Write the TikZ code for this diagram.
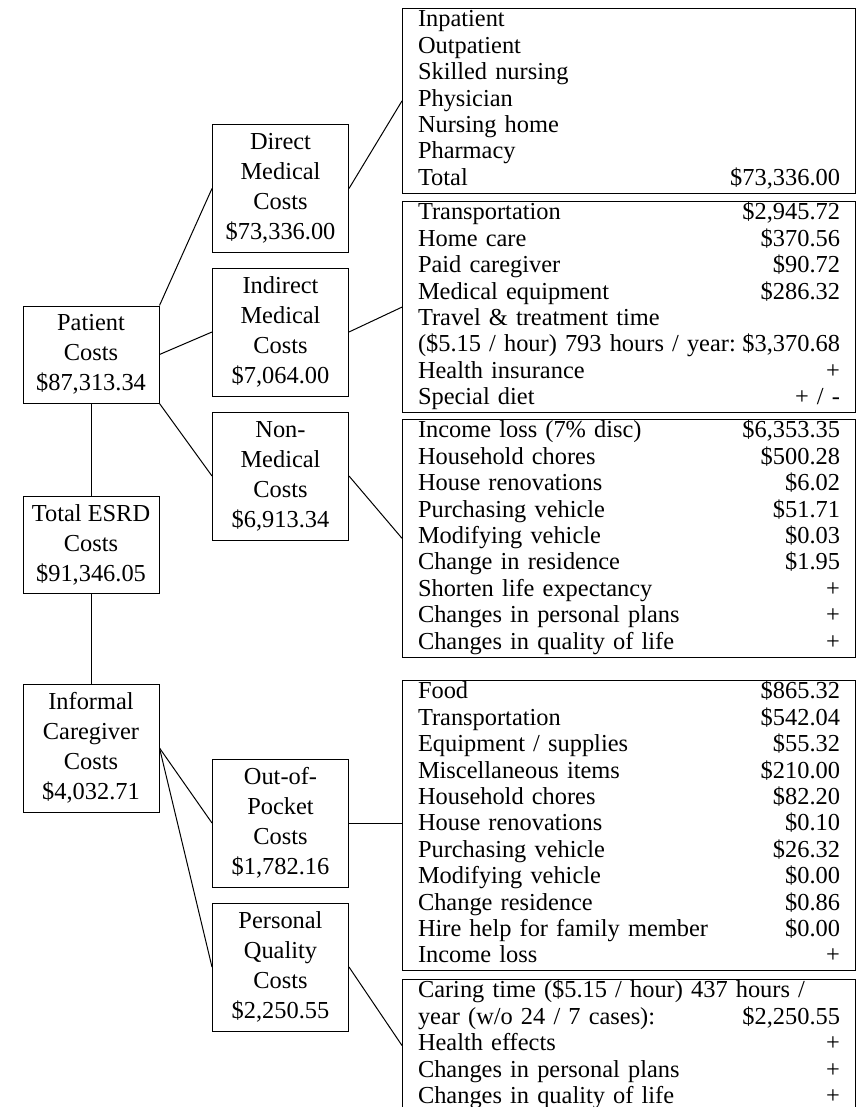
\documentclass[tikz,border=0pt]{standalone}
\usepackage{fontspec}
\setmainfont{Liberation Serif}
\newcommand\costrow[2]{\strut#1\hfill#2}
\begin{document}
\begin{tikzpicture}[x=0.5pt,y=-0.5pt,line width=0.5pt,
	costbox/.style={draw,align=center,minimum width=68pt,inner sep=0pt,font=\fontsize{12.2}{15}\selectfont},
	threeline/.style={costbox,minimum height=48.5pt},
	fourline/.style={costbox,minimum height=64pt},
	listbox/.style={draw,anchor=north west,align=left,text width=211pt,inner xsep=7.75pt,inner ysep=0pt,font=\fontsize{12.2}{13.2}\selectfont}]
	\useasboundingbox (0,0) rectangle (860,1107);
	% left column
	\node[threeline] (patient) at (91,354.5) {Patient\\Costs\\\$87,313.34};
	\node[threeline] (total) at (91,544.5) {Total ESRD\\Costs\\\$91,346.05};
	\node[fourline] (informal) at (91,748) {Informal\\Caregiver\\Costs\\\$4,032.71};
	% middle column
	\node[fourline] (direct) at (280.5,188.5) {Direct\\Medical\\Costs\\\$73,336.00};
	\node[fourline] (indirect) at (280.5,332) {Indirect\\Medical\\Costs\\\$7,064.00};
	\node[fourline] (nonmed) at (280.5,476) {Non-\\Medical\\Costs\\\$6,913.34};
	\node[fourline] (pocket) at (280.5,823) {Out-of-\\Pocket\\Costs\\\$1,782.16};
	\node[fourline] (quality) at (280.5,967) {Personal\\Quality\\Costs\\\$2,250.55};
	% right column
	\node[listbox] (directlist) at (402,8) {\costrow{Inpatient}{}\\\costrow{Outpatient}{}\\
		\costrow{Skilled nursing}{}\\\costrow{Physician}{}\\\costrow{Nursing home}{}\\
		\costrow{Pharmacy}{}\\\costrow{Total}{\$73,336.00}};
	\node[listbox] (indirectlist) at (402,201) {\costrow{Transportation}{\$2,945.72}\\
		\costrow{Home care}{\$370.56}\\\costrow{Paid caregiver}{\$90.72}\\
		\costrow{Medical equipment}{\$286.32}\\\costrow{Travel \& treatment time}{}\\
		\costrow{(\$5.15 / hour) 793 hours / year:}{\$3,370.68}\\
		\costrow{Health insurance}{+}\\\costrow{Special diet}{+ / -}};
	\node[listbox] (nonmedlist) at (402,419) {\costrow{Income loss (7\% disc)}{\$6,353.35}\\
		\costrow{Household chores}{\$500.28}\\\costrow{House renovations}{\$6.02}\\
		\costrow{Purchasing vehicle}{\$51.71}\\\costrow{Modifying vehicle}{\$0.03}\\
		\costrow{Change in residence}{\$1.95}\\\costrow{Shorten life expectancy}{+}\\
		\costrow{Changes in personal plans}{+}\\\costrow{Changes in quality of life}{+}};
	\node[listbox] (pocketlist) at (402,680) {\costrow{Food}{\$865.32}\\
		\costrow{Transportation}{\$542.04}\\\costrow{Equipment / supplies}{\$55.32}\\
		\costrow{Miscellaneous items}{\$210.00}\\\costrow{Household chores}{\$82.20}\\
		\costrow{House renovations}{\$0.10}\\\costrow{Purchasing vehicle}{\$26.32}\\
		\costrow{Modifying vehicle}{\$0.00}\\\costrow{Change residence}{\$0.86}\\
		\costrow{Hire help for family member}{\$0.00}\\\costrow{Income loss}{+}};
	\node[listbox] (qualitylist) at (402,979) {\costrow{Caring time (\$5.15 / hour) 437 hours /}{}\\
		\costrow{year (w/o 24 / 7 cases):}{\$2,250.55}\\\costrow{Health effects}{+}\\
		\costrow{Changes in personal plans}{+}\\\costrow{Changes in quality of life}{+}};
	% connectors
	\draw (patient.north east) -- (direct.west);
	\draw (patient.east) -- (indirect.west);
	\draw (patient.south east) -- (nonmed.west);
	\draw (patient.south) -- (total.north);
	\draw (total.south) -- (informal.north);
	\draw (informal.east) -- (pocket.west);
	\draw (informal.east) -- (quality.west);
	\draw (direct.east) -- (directlist.west);
	\draw (indirect.east) -- (indirectlist.west);
	\draw (nonmed.east) -- (nonmedlist.west);
	\draw (pocket.east) -- (pocket.east -| pocketlist.west);
	\draw (quality.east) -- (qualitylist.west);
\end{tikzpicture}
\end{document}
